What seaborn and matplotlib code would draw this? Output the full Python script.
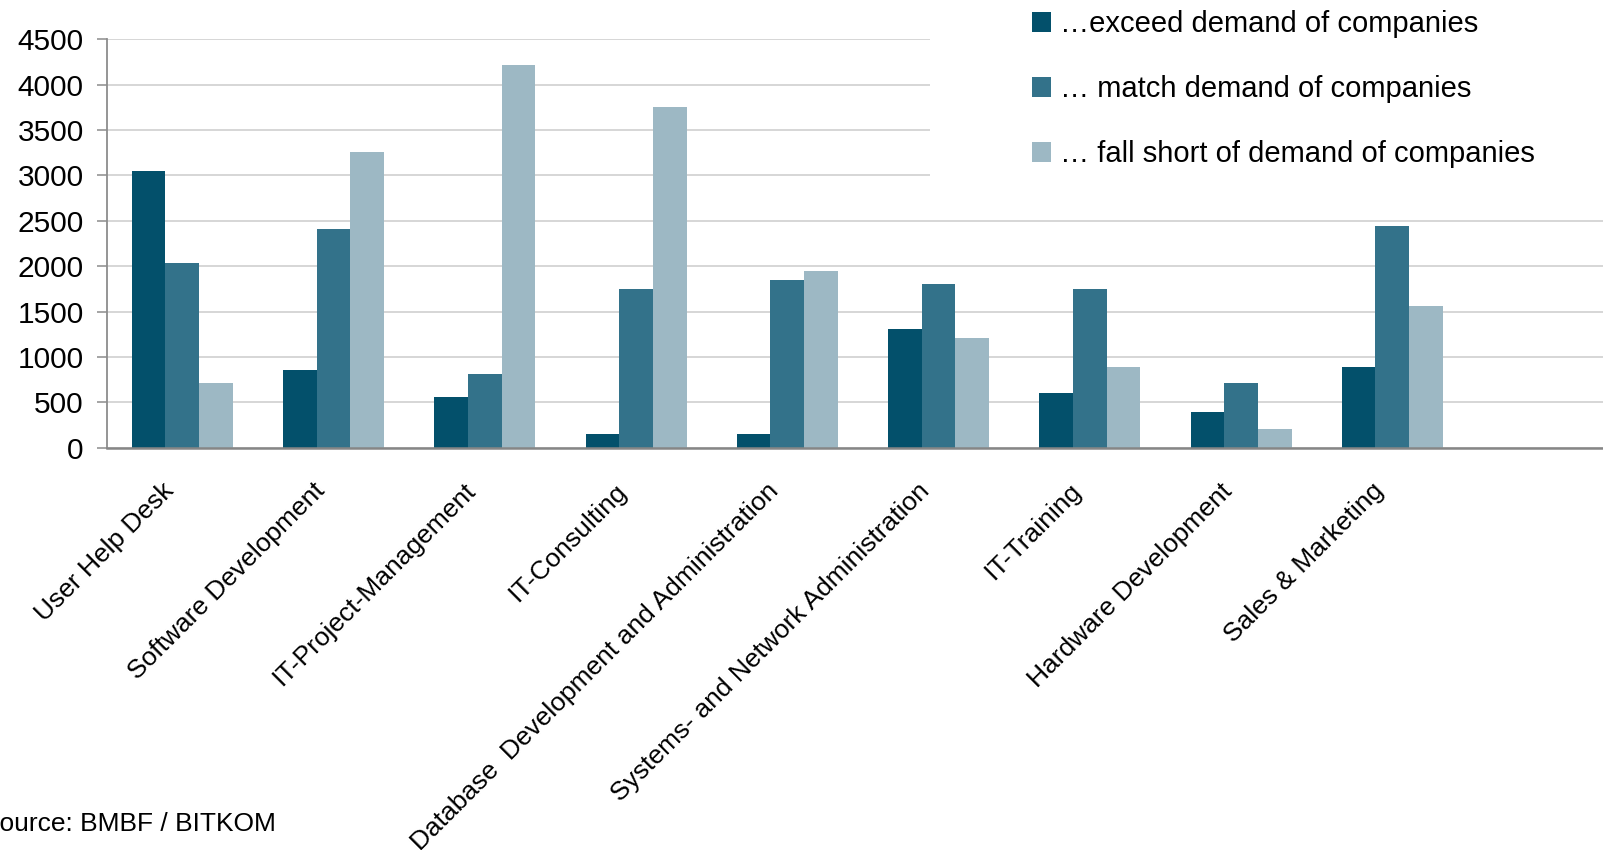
import matplotlib
matplotlib.use("Agg")
import matplotlib.pyplot as plt
from matplotlib.patches import Rectangle
from matplotlib.transforms import ScaledTranslation
import seaborn as sns
import pandas as pd

categories = ["User Help Desk", "Software Development", "IT-Project-Management",
              "IT-Consulting", "Database  Development and Administration",
              "Systems- and Network Administration", "IT-Training",
              "Hardware Development", "Sales & Marketing"]
series_names = ["…exceed demand of companies", "… match demand of companies",
                "… fall short of demand of companies"]
exceed = [3050, 860, 560, 150, 150, 1310, 600, 395, 890]
match = [2035, 2410, 815, 1750, 1850, 1805, 1750, 715, 2445]
fall_short = [715, 3255, 4215, 3755, 1950, 1210, 890, 205, 1560]
yticks = [0, 500, 1000, 1500, 2000, 2500, 3000, 3500, 4000, 4500]
colors = ["#03506B", "#33728A", "#9DB8C4"]
source_text = "Source: BMBF / BITKOM"

rows = []
for name, vals in zip(series_names, [exceed, match, fall_short]):
    for c, v in zip(categories, vals):
        rows.append({"category": c, "series": name, "value": v})
df = pd.DataFrame(rows)

sns.set_theme(style="white")
plt.rcParams["font.family"] = ["Liberation Sans", "DejaVu Sans"]
plt.rcParams["text.color"] = "black"

W, H = 1603, 850
fig = plt.figure(figsize=(W / 100, H / 100), dpi=100)
ax = fig.add_axes([106.7 / W, 1 - 447.7 / H, 1512.5 / W, (447.7 - 39.3) / H])

sns.barplot(data=df, x="category", y="value", hue="series", order=categories,
            hue_order=series_names, palette=colors, saturation=1, width=0.668,
            linewidth=0, edgecolor="none", ax=ax)
handles, labels = ax.get_legend_handles_labels()
if ax.get_legend() is not None:
    ax.get_legend().remove()

ax.set_xlim(-0.5, 9.5)
ax.set_ylim(0, 4500)
ax.set_yticks(yticks)
ax.set_yticklabels([str(t) for t in yticks])
ax.set_xlabel("")
ax.set_ylabel("")
ax.grid(axis="y", color="#D0D0D0", linewidth=1.2)
ax.set_axisbelow(True)
for s in ["top", "right"]:
    ax.spines[s].set_visible(False)
ax.spines["left"].set_color("#8C8C8C")
ax.spines["left"].set_linewidth(1.3)
ax.spines["bottom"].set_color("#868686")
ax.spines["bottom"].set_linewidth(1.8)
ax.tick_params(axis="y", left=True, length=7.5, width=1.1, color="#8C8C8C",
               pad=9, labelsize=21.5, labelcolor="black")
ax.tick_params(axis="x", bottom=False, labelbottom=False)

# category labels, rotated, anchored just left of / below each group centre
lab_tr = ax.get_xaxis_transform() + ScaledTranslation(-21 / 100, -31 / 100,
                                                      fig.dpi_scale_trans)
for i, c in enumerate(categories):
    ax.text(i, 0, c, transform=lab_tr, rotation=45, ha="right", va="top",
            rotation_mode="anchor", fontsize=19, color="black", clip_on=False)

# white panel behind the legend hiding the gridlines
fig.add_artist(Rectangle((930 / W, 1 - 195 / H), 1 - 930 / W, 195 / H,
                         transform=fig.transFigure, facecolor="white",
                         edgecolor="none", zorder=1))

fig.legend(handles, labels, loc="upper left",
           bbox_to_anchor=(1032 / W, 1 - 10.3 / H), frameon=False,
           fontsize=21, handlelength=0.66, handleheight=0.66,
           handletextpad=0.3, labelspacing=1.27, borderpad=0,
           borderaxespad=0, labelcolor="black")

fig.text(-17.5 / W, 1 - 830.7 / H, source_text, fontsize=19,
         ha="left", va="baseline", color="black")

fig.savefig("out.png", dpi=100)
